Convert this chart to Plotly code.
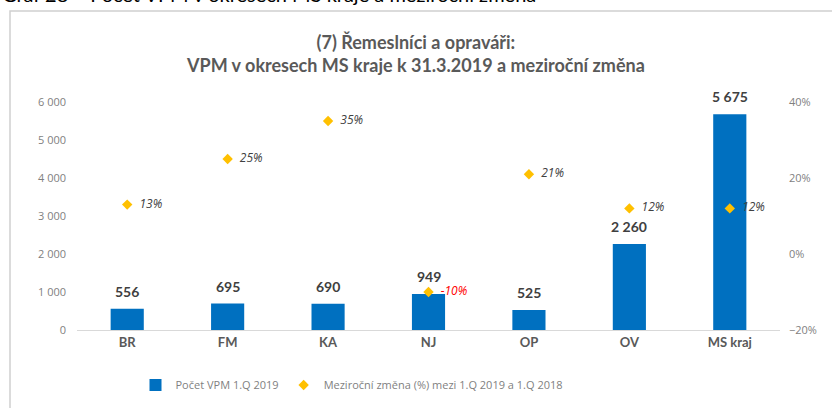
import plotly.graph_objects as go

categories = ["BR", "FM", "KA", "NJ", "OP", "OV", "MS kraj"]
vpm_counts = [556, 695, 690, 949, 525, 2260, 5675]
yoy_change = [0.13, 0.25, 0.35, -0.10, 0.21, 0.12, 0.12]
left_ticks = [0, 1000, 2000, 3000, 4000, 5000, 6000]
right_ticks = [-0.2, 0.0, 0.2, 0.4]

bar_text = [f"{v:,}".replace(",", " ") for v in vpm_counts]
pct_text = ["  " + f"{round(v*100):d}%" for v in yoy_change]
pct_colors = ["#FF0000" if v < 0 else "#404040" for v in yoy_change]

fig = go.Figure()
fig.add_trace(go.Bar(
    x=categories, y=vpm_counts, name="Počet VPM 1.Q 2019",
    marker=dict(color="#0070C0", line=dict(width=0)),
    yaxis="y",
))
fig.add_trace(go.Scatter(
    x=categories, y=yoy_change, name="Meziroční změna (%) mezi 1.Q 2019 a 1.Q 2018",
    mode="markers+text", yaxis="y2",
    marker=dict(symbol="diamond", color="#FFC000", size=8),
    text=pct_text, textposition="middle right", cliponaxis=False,
    textfont=dict(family="Open Sans", size=12, color=pct_colors, style="italic"),
))

# bar value labels, placed in data coordinates above each bar
for cat, val, txt in zip(categories, vpm_counts, bar_text):
    fig.add_annotation(
        x=cat, y=val, xref="x", yref="y", text=f"<b>{txt}</b>", showarrow=False,
        yanchor="bottom", yshift=7,
        font=dict(family="Lato", size=14, color="#404040"),
    )

W, H = 832, 408
L, R, T, B = 77, 52, 102, 78
pw, ph = W - L - R, H - T - B

def px_x(p):
    return (p - L) / pw

def px_y(p):
    return (H - B - p) / ph

fig.update_layout(
    width=W, height=H,
    margin=dict(l=L, r=R, t=T, b=B, autoexpand=False),
    paper_bgcolor="white", plot_bgcolor="white",
    bargap=0.67,
    showlegend=True,
    legend=dict(orientation="h", x=px_x(352), xanchor="center", y=px_y(385), yanchor="middle",
                font=dict(family="Open Sans", size=11, color="#7F7F7F"),
                itemwidth=30, tracegroupgap=0, bgcolor="rgba(0,0,0,0)"),
    xaxis=dict(showline=True, linecolor="#D9D9D9", linewidth=1, ticks="",
               tickfont=dict(family="Lato", size=13, color="#595959", weight="bold"),
               showgrid=False),
    yaxis=dict(range=[0, 6000], tickvals=left_ticks,
               ticktext=[f"{v:,}".replace(",", " ") for v in left_ticks],
               showgrid=False, zeroline=False, showline=False,
               tickfont=dict(family="Open Sans", size=11, color="#7F7F7F"),
               ticklabelstandoff=10),
    yaxis2=dict(range=[-0.2, 0.4], tickvals=right_ticks, tickformat=".0%",
                overlaying="y", side="right", showgrid=False, zeroline=False, showline=False,
                tickfont=dict(family="Open Sans", size=11, color="#7F7F7F"),
                ticklabelstandoff=8),
    font=dict(family="Open Sans", color="#595959"),
)

fig.add_annotation(
    xref="paper", yref="paper", x=px_x(415), y=px_y(53), xanchor="center", yanchor="middle",
    text="<b>(7) Řemeslníci a opraváři:</b><br><b>VPM v okresech MS kraje k 31.3.2019 a meziroční změna</b>",
    showarrow=False, font=dict(family="Lato", size=18, color="#595959"),
)
fig.add_annotation(
    xref="paper", yref="paper", x=px_x(0), y=px_y(8), xanchor="left", yanchor="bottom",
    text="Graf 28 \u2013 Počet VPM v okresech MS kraje a meziroční změna",
    showarrow=False, font=dict(family="Lato", size=20, color="#000000"),
)
fig.add_shape(
    type="rect", xref="paper", yref="paper",
    x0=px_x(10), x1=px_x(845), y0=px_y(425), y1=px_y(11),
    line=dict(color="#D0D0D0", width=1.5), fillcolor="rgba(0,0,0,0)", layer="above",
)

fig.write_html("out.html", config={"displayModeBar": False},
               post_script="document.body.style.margin='0';document.body.style.padding='0';")
